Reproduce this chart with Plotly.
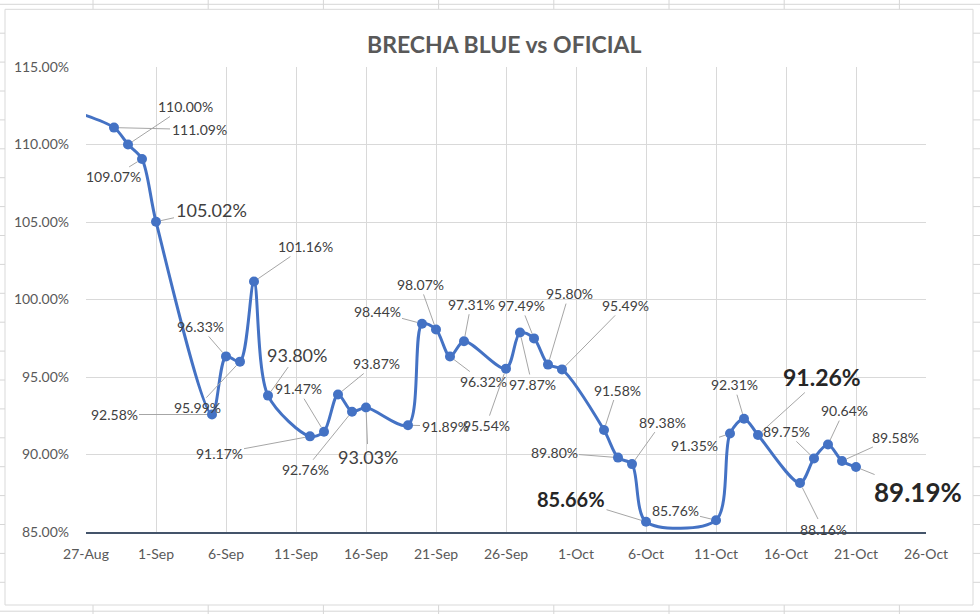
import plotly.graph_objects as go

# ---------------- data ----------------
dates = ["2023-08-25", "2023-08-29", "2023-08-30", "2023-08-31", "2023-09-01",
         "2023-09-05", "2023-09-06", "2023-09-07", "2023-09-08", "2023-09-09",
         "2023-09-12", "2023-09-13", "2023-09-14", "2023-09-15", "2023-09-16",
         "2023-09-19", "2023-09-20", "2023-09-21", "2023-09-22", "2023-09-23",
         "2023-09-26", "2023-09-27", "2023-09-28", "2023-09-29", "2023-09-30",
         "2023-10-03", "2023-10-04", "2023-10-05", "2023-10-06", "2023-10-11",
         "2023-10-12", "2023-10-13", "2023-10-14", "2023-10-17", "2023-10-18",
         "2023-10-19", "2023-10-20", "2023-10-21"]
brecha = [112.45, 111.09, 110.00, 109.07, 105.02,
          92.58, 96.33, 95.99, 101.16, 93.80,
          91.17, 91.47, 93.87, 92.76, 93.03,
          91.89, 98.44, 98.07, 96.32, 97.31,
          95.54, 97.87, 97.49, 95.80, 95.49,
          91.58, 89.80, 89.38, 85.66, 85.76,
          91.35, 92.31, 91.26, 88.16, 89.75,
          90.64, 89.58, 89.19]
show_label = [False] + [True] * 37

x_tick_vals = ["2023-08-27", "2023-09-01", "2023-09-06", "2023-09-11", "2023-09-16",
               "2023-09-21", "2023-09-26", "2023-10-01", "2023-10-06", "2023-10-11",
               "2023-10-16", "2023-10-21", "2023-10-26"]
x_tick_text = ["27-Aug", "1-Sep", "6-Sep", "11-Sep", "16-Sep", "21-Sep", "26-Sep",
               "1-Oct", "6-Oct", "11-Oct", "16-Oct", "21-Oct", "26-Oct"]
y_tick_vals = [85, 90, 95, 100, 105, 110, 115]
y_tick_text = ["85.00%", "90.00%", "95.00%", "100.00%", "105.00%", "110.00%", "115.00%"]

title_text = "BRECHA BLUE vs OFICIAL"

# ---------------- label placement / style (pixels) ----------------
label_dx = [0, 85, 57, -29, 55, -98, -26, -43, 51, 29, -91, -26, 38, -47, 2, 37, -45, -16,
            33, 7, -20, 12, -13, 21, 63, 13, -64, 30, -75, -41, -36, -10, 64, 23, -28, 16, 53, 62]
label_dy = [0, 2, -38, 18, -12, 0, -30, 46, -35, -41, 17, -43, -31, 58, 49, 1, -12, -45,
            25, -37, 57, 52, -33, -71, -64, -40, -5, -42, -23, -10, 12, -34, -58, 46, -27, -34, -24, 25]
label_size = [14] * 38
label_bold = [False] * 38
for i, s in [(4, 18), (9, 18), (14, 18)]:
    label_size[i] = s
for i, s in [(28, 20), (32, 23), (37, 26)]:
    label_size[i] = s
    label_bold[i] = True

FONT = "Lato, Calibri, 'Open Sans', sans-serif"
LINE = "#4472C4"

W, H = 980, 614
L, R, T, B = 86, 54, 67, 82
PW, PH = W - L - R, H - T - B


def px(x):
    return (x - L) / PW


def py(y):
    return (H - B - y) / PH


fig = go.Figure()
fig.add_trace(go.Scatter(
    x=dates, y=brecha, mode="lines+markers",
    line=dict(color=LINE, width=3, shape="spline", smoothing=0.85),
    marker=dict(color=LINE, size=10),
    cliponaxis=True, hoverinfo="skip", showlegend=False,
))

annotations = []
for d, v, sl, dx, dy, sz, bd in zip(dates, brecha, show_label, label_dx, label_dy,
                                     label_size, label_bold):
    if not sl:
        continue
    txt = f"{v:.2f}%"
    if bd:
        txt = f"<b>{txt}</b>"
    annotations.append(dict(
        x=d, y=v, xref="x", yref="y", text=txt, showarrow=True,
        ax=dx, ay=dy, arrowhead=0, arrowwidth=1, arrowcolor="#a6a6a6",
        standoff=5, font=dict(family=FONT, size=sz, color="#262626" if bd else "#404040"),
    ))

annotations.append(dict(
    x=px(504), y=py(44), xref="paper", yref="paper", text=f"<b>{title_text}</b>",
    showarrow=False, font=dict(family=FONT, size=23, color="#595959"),
    xanchor="center", yanchor="middle",
))

# spreadsheet background + chart area
shapes = []
GRIDC = "#d6d6d6"
r = 0
while 4.3 + 28.9 * r < H:
    yy = 4.3 + 28.9 * r
    shapes.append(dict(type="line", xref="paper", yref="paper", x0=px(0), x1=px(W),
                       y0=py(yy), y1=py(yy), line=dict(color=GRIDC, width=1), layer="below"))
    r += 1
c = 0
while 93 + 115.2 * c < W:
    xx = 93 + 115.2 * c
    shapes.append(dict(type="line", xref="paper", yref="paper", x0=px(xx), x1=px(xx),
                       y0=py(0), y1=py(H), line=dict(color=GRIDC, width=1), layer="below"))
    c += 1
shapes.append(dict(type="rect", xref="paper", yref="paper", x0=px(5), x1=px(973),
                   y0=py(9.3), y1=py(605), fillcolor="white",
                   line=dict(color="#d9d9d9", width=1), layer="below"))

fig.update_layout(
    width=W, height=H,
    margin=dict(l=L, r=R, t=T, b=B, pad=0),
    paper_bgcolor="white", plot_bgcolor="white",
    annotations=annotations, shapes=shapes,
    font=dict(family=FONT, color="#595959"),
    xaxis=dict(type="date", range=["2023-08-27", "2023-10-26"],
               tickmode="array", tickvals=x_tick_vals, ticktext=x_tick_text,
               showgrid=True, gridcolor="#d9d9d9", gridwidth=1,
               showline=True, linecolor="#44546A", linewidth=2,
               zeroline=False, ticks="", tickfont=dict(family=FONT, size=14, color="#595959"),
               ticklabelstandoff=8, fixedrange=True),
    yaxis=dict(range=[85, 115], tickmode="array", tickvals=y_tick_vals, ticktext=y_tick_text,
               showgrid=True, gridcolor="#d9d9d9", gridwidth=1,
               showline=False, zeroline=False, ticks="",
               tickfont=dict(family=FONT, size=14, color="#595959"),
               ticklabelstandoff=16, fixedrange=True),
)

fig.write_html("out.html", config={"displayModeBar": False},
               post_script="document.body.style.margin='0';document.body.style.overflow='hidden';")
